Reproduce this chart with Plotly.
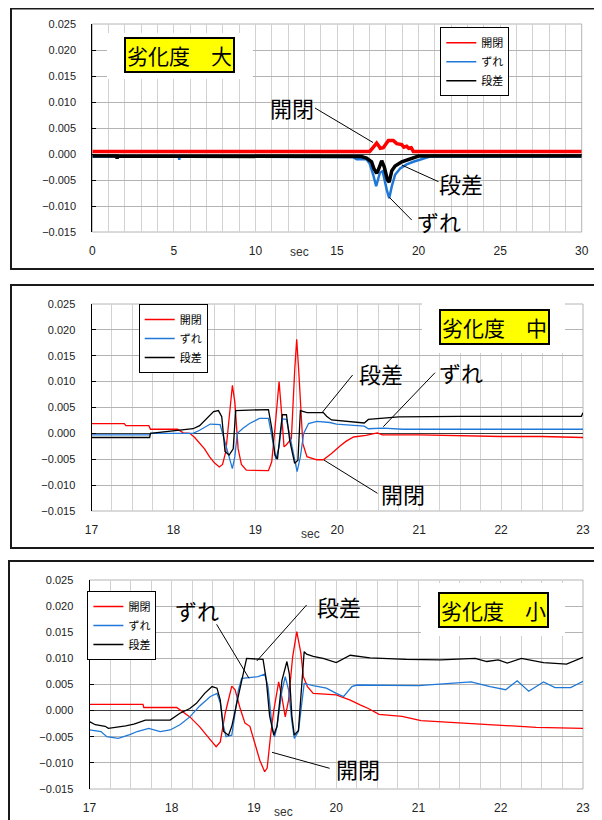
import plotly.graph_objects as go

# The page body keeps the browser's 8 px margin, so the figure starts at (8, 8)
OFF = 8
W, H = 594, 812

# ---------------- data ----------------
NAMES = ["開閉", "ずれ", "段差"]
TITLES = ["劣化度　大", "劣化度　中", "劣化度　小"]
Y_TICKS = [-0.015, -0.010, -0.005, 0.000, 0.005, 0.010, 0.015, 0.020, 0.025]

# Panel 1 (劣化度 大), 0-30 s
t1_kai = [0, 17.0, 17.12, 17.3, 17.43, 17.55, 17.65, 17.84, 18.0, 18.15, 18.45, 18.55, 18.66, 18.97,
          19.1, 19.27, 19.4, 19.55, 19.68, 30]
v1_kai = [0.0005, 0.0005, 0.0009, 0.0017, 0.0021, 0.0016, 0.0011, 0.0012, 0.0019, 0.0026, 0.0026,
          0.0022, 0.0020, 0.0018, 0.0013, 0.0015, 0.0011, 0.0012, 0.0005, 0.0005]
t1_zure = [0, 5.3, 5.33, 5.36, 16.0, 16.2, 16.8, 17.0, 17.22, 17.4, 17.63, 17.8, 18.05, 18.2, 18.36,
           18.56, 18.87, 19.27, 19.68, 20.0, 20.4, 20.7, 30]
v1_zure = [-0.0005, -0.0005, -0.0011, -0.0005, -0.0006, -0.0010, -0.0010, -0.0018, -0.0040, -0.0062,
           -0.0036, -0.0033, -0.0069, -0.0085, -0.0062, -0.0040, -0.0028, -0.0020, -0.0015, -0.0012,
           -0.0009, -0.0005, -0.0005]
t1_dan = [0, 1.5, 1.52, 1.54, 16.5, 16.81, 17.12, 17.26, 17.43, 17.53, 17.74, 17.9, 18.09, 18.2, 18.36,
          18.56, 18.97, 19.38, 19.68, 20.0, 30]
v1_dan = [-0.0004, -0.0004, -0.0009, -0.0004, -0.0005, -0.0008, -0.0015, -0.0028, -0.0037, -0.0031,
          -0.0013, -0.0025, -0.0050, -0.0054, -0.0032, -0.0023, -0.0015, -0.0011, -0.0007, -0.0004, -0.0004]

# Panel 2 (劣化度 中), 17-23 s
t2_kai = [17.0, 17.4, 17.42, 17.7, 17.72, 18.05, 18.12, 18.2, 18.26, 18.32, 18.38, 18.44, 18.5, 18.56,
          18.6, 18.64, 18.68, 18.72, 18.75, 18.79, 18.83, 18.89, 19.16, 19.2, 19.24, 19.29, 19.32,
          19.35, 19.38, 19.44, 19.48, 19.505, 19.53, 19.58, 19.63, 19.75, 19.83, 19.93, 20.03, 20.11,
          20.2, 20.35, 20.49, 20.55, 21.0, 21.5, 22.0, 22.5, 23.0]
v2_kai = [0.0019, 0.0019, 0.0015, 0.0015, 0.0008, 0.0008, 0.0001, 0.0000, -0.0008, -0.0018, -0.0030,
          -0.0045, -0.0057, -0.0065, -0.0060, -0.0035, 0.0030, 0.0093, 0.0060, -0.0030, -0.0060,
          -0.0071, -0.0072, -0.0055, 0.0010, 0.0100, 0.0040, -0.0026, -0.0022, -0.0010, 0.0120,
          0.0182, 0.0120, -0.0020, -0.0045, -0.0051, -0.0051, -0.0039, -0.0025, -0.0015, -0.0007,
          -0.0004, 0.0001, -0.0003, -0.0003, -0.0005, -0.0006, -0.0006, -0.0008]
t2_zure = [17.0, 17.71, 17.72, 18.24, 18.32, 18.45, 18.57, 18.62, 18.68, 18.72, 18.75, 18.78, 18.85,
           18.93, 19.05, 19.16, 19.2, 19.25, 19.29, 19.33, 19.38, 19.44, 19.51, 19.55, 19.59, 19.65,
           19.75, 19.91, 19.99, 20.16, 20.33, 20.38, 20.56, 20.8, 21.5, 22.2, 23.0]
v2_zure = [-0.0003, -0.0003, 0.0000, 0.0000, 0.0006, 0.0018, 0.0017, -0.0013, -0.0045, -0.0068,
           -0.0045, 0.0000, 0.0010, 0.0019, 0.0029, 0.0029, -0.0004, -0.0050, -0.0026, 0.0028, 0.0027,
           -0.0022, -0.0074, -0.0045, 0.0000, 0.0019, 0.0023, 0.0021, 0.0018, 0.0016, 0.0014, 0.0009,
           0.0010, 0.0008, 0.0008, 0.0008, 0.0008]
t2_dan = [17.0, 17.71, 17.72, 18.24, 18.32, 18.41, 18.49, 18.55, 18.59, 18.63, 18.68, 18.73, 18.76,
          19.16, 19.2, 19.24, 19.27, 19.3, 19.33, 19.38, 19.42, 19.48, 19.52, 19.55, 19.59, 19.63,
          19.83, 19.87, 19.93, 20.16, 20.33, 20.38, 20.75, 21.5, 22.5, 22.98, 23.0]
v2_dan = [-0.0008, -0.0008, 0.0000, 0.0009, 0.0015, 0.0029, 0.0042, 0.0044, 0.0032, -0.0035, -0.0042,
          -0.0030, 0.0044, 0.0046, 0.0010, -0.0042, -0.0050, -0.0005, 0.0036, 0.0036, -0.0014,
          -0.0058, -0.0052, 0.0044, 0.0042, 0.0040, 0.0040, 0.0033, 0.0026, 0.0023, 0.0020, 0.0027,
          0.0032, 0.0033, 0.0033, 0.0033, 0.0040]

# Panel 3 (劣化度 小), 17-23 s
t3_kai = [17.0, 17.65, 17.66, 18.06, 18.22, 18.34, 18.47, 18.54, 18.59, 18.65, 18.73, 18.77, 18.83,
          18.89, 18.95, 19.01, 19.07, 19.13, 19.16, 19.2, 19.24, 19.3, 19.34, 19.38, 19.42, 19.47,
          19.52, 19.57, 19.6, 19.65, 19.72, 20.0, 20.17, 20.29, 20.39, 20.52, 20.8, 21.03, 21.27,
          21.5, 21.73, 21.97, 22.2, 22.43, 23.0]
v3_kai = [0.0012, 0.0012, 0.0006, 0.0006, -0.0012, -0.0031, -0.0056, -0.0069, -0.0060, -0.0005,
          0.0047, 0.0040, 0.0005, -0.0024, -0.0030, -0.0063, -0.0095, -0.0117, -0.0110, -0.0050,
          0.0000, 0.0055, 0.0025, -0.0012, 0.0020, 0.0103, 0.0151, 0.0110, 0.0065, 0.0046, 0.0033,
          0.0030, 0.0020, 0.0011, 0.0004, -0.0007, -0.0011, -0.0019, -0.0021, -0.0024, -0.0026,
          -0.0027, -0.0030, -0.0032, -0.0034]
t3_zure = [17.0, 17.14, 17.21, 17.35, 17.49, 17.58, 17.72, 17.86, 17.98, 18.1, 18.22, 18.34, 18.47,
           18.55, 18.59, 18.63, 18.66, 18.73, 18.77, 18.81, 18.85, 18.95, 19.05, 19.13, 19.17, 19.22,
           19.25, 19.28, 19.34, 19.38, 19.42, 19.46, 19.49, 19.54, 19.58, 19.61, 19.72, 19.88, 20.0,
           20.09, 20.19, 20.25, 21.0, 21.64, 21.87, 22.06, 22.2, 22.34, 22.52, 22.66, 22.85, 23.0]
v3_zure = [-0.0037, -0.0040, -0.0050, -0.0053, -0.0046, -0.0040, -0.0034, -0.0040, -0.0037, -0.0027,
           -0.0012, 0.0009, 0.0027, 0.0033, 0.0015, -0.0030, -0.0050, -0.0047, -0.0005, 0.0039,
           0.0062, 0.0063, 0.0065, 0.0070, 0.0046, -0.0030, -0.0050, -0.0030, 0.0038, 0.0065, 0.0040,
           -0.0020, -0.0053, -0.0040, 0.0020, 0.0052, 0.0048, 0.0043, 0.0033, 0.0027, 0.0046, 0.0049,
           0.0048, 0.0055, 0.0046, 0.0040, 0.0057, 0.0037, 0.0055, 0.0044, 0.0044, 0.0056]
t3_dan = [17.0, 17.07, 17.19, 17.23, 17.44, 17.54, 17.68, 17.98, 18.1, 18.22, 18.3, 18.4, 18.49,
          18.55, 18.59, 18.63, 18.69, 18.73, 18.79, 18.85, 18.91, 19.11, 19.15, 19.19, 19.24, 19.28,
          19.34, 19.4, 19.43, 19.46, 19.49, 19.54, 19.58, 19.61, 19.64, 19.72, 19.84, 20.0, 20.17,
          20.41, 20.85, 21.27, 21.69, 21.83, 21.97, 22.08, 22.25, 22.52, 22.8, 23.0]
v3_dan = [-0.0021, -0.0027, -0.0030, -0.0034, -0.0029, -0.0026, -0.0018, -0.0018, -0.0005, 0.0004,
          0.0014, 0.0033, 0.0046, 0.0043, 0.0020, -0.0040, -0.0047, -0.0030, 0.0014, 0.0058, 0.0100,
          0.0098, 0.0058, -0.0010, -0.0047, -0.0030, 0.0058, 0.0094, 0.0070, -0.0010, -0.0047,
          -0.0038, 0.0058, 0.0113, 0.0108, 0.0104, 0.0100, 0.0092, 0.0106, 0.0101, 0.0098, 0.0097,
          0.0100, 0.0094, 0.0097, 0.0091, 0.0100, 0.0092, 0.0089, 0.0102]

# ---------------- layout helpers (window pixel -> paper) ----------------
def fx(x):
    return (x - OFF) / W


def fy(y):
    return 1 - (y - OFF) / H


RED, BLUE, BLACK = "#ff0000", "#1f78d8", "#000000"
COLORS = [RED, BLUE, BLACK]
CJK = "Noto Sans CJK JP"
NUM = "Liberation Sans, Arial, sans-serif"
GRID_X = "#d2d2d2"
GRID_Y = "#b4b4b4"

panels = [
    dict(data=[(t1_kai, v1_kai), (t1_zure, v1_zure), (t1_dan, v1_dan)],
         box=(92.3, 581.7, 24, 232), xr=[0, 30], dt=5, minor=1, widths=[3.5, 2.5, 3.5],
         legend=(440.3, 27.3), border=(11, 8.6, 599, 269), title=(179.5, 55),
         white=(107, 33, 253, 79), sec=(299, 252),
         labels=[("開閉", 292, 107, (315, 108, 373, 142.5)),
                 ("段差", 461, 183, (438.5, 181.7, 401.7, 165)),
                 ("ずれ", 439, 221, (411.7, 220, 389.3, 197.3))]),
    dict(data=[(t2_kai, v2_kai), (t2_zure, v2_zure), (t2_dan, v2_dan)],
         box=(91.5, 583, 304, 511), xr=[17, 23], dt=1, minor=0.25, widths=[1.3, 1.3, 1.3],
         legend=(138.7, 304), border=(11, 285, 600, 548), title=(494, 327.5),
         white=(422, 302, 565, 353), sec=(310.5, 533.5),
         labels=[("段差", 381, 373, (352.6, 375, 322, 412.7)),
                 ("ずれ", 461, 372, (435, 372.7, 383.3, 426.7)),
                 ("開閉", 403, 493, (377.5, 493.3, 323.9, 460))]),
    dict(data=[(t3_kai, v3_kai), (t3_zure, v3_zure), (t3_dan, v3_dan)],
         box=(89.5, 583, 580, 789), xr=[17, 23], dt=1, minor=0.25, widths=[1.3, 1.3, 1.3],
         legend=(87.4, 591), border=(9, 561, 600, 832), title=(493, 609.5),
         white=(421, 583, 565, 636), sec=(283.5, 811.5),
         labels=[("ずれ", 197, 610, (216.6, 624.3, 249, 678.3)),
                 ("段差", 339, 606, (306.6, 605, 256.8, 661)),
                 ("開閉", 358, 767.5, (329.6, 768.3, 272, 752.3))]),
]

fig = go.Figure()
shapes, annotations = [], []
layout = {}

for i, p in enumerate(panels):
    n = i + 1
    xa = "x" if n == 1 else f"x{n}"
    ya = "y" if n == 1 else f"y{n}"
    lg = "legend" if n == 1 else f"legend{n}"
    big = (n == 1)
    for k, (t, v) in enumerate(p["data"]):
        fig.add_trace(go.Scatter(
            x=t, y=v, name=NAMES[k], mode="lines",
            line=dict(color=COLORS[k], width=p["widths"][k]),
            xaxis=xa, yaxis=ya, legend=lg, showlegend=not big, hoverinfo="skip"))
    if big:
        # legend entries with thin sample lines (the plotted lines are drawn heavy)
        for k in range(3):
            fig.add_trace(go.Scatter(
                x=[None], y=[None], name=NAMES[k], mode="lines",
                line=dict(color=COLORS[k], width=1.5),
                xaxis=xa, yaxis=ya, legend=lg, showlegend=True, hoverinfo="skip"))

    l, r, t_, b = p["box"]
    layout[xa.replace("x", "xaxis")] = dict(
        domain=[fx(l), fx(r)], anchor=ya, range=p["xr"], dtick=p["dt"], tick0=p["xr"][0],
        showgrid=True, gridcolor=GRID_X, gridwidth=1, zeroline=False, showline=False,
        ticks="", minor=dict(dtick=p["minor"], showgrid=True, gridcolor=GRID_X, gridwidth=1),
        tickfont=dict(family=NUM, size=12, color="#222"), ticklabelstandoff=10,
        automargin=False, fixedrange=True)
    layout[ya.replace("y", "yaxis")] = dict(
        domain=[fy(b), fy(t_)], anchor=xa, range=[-0.0150001, 0.0250001], tickvals=Y_TICKS,
        tickformat=".3f", showgrid=True, gridcolor=GRID_Y, gridwidth=1,
        zeroline=True, zerolinecolor="#3a3a3a", zerolinewidth=1,
        showline=True, linecolor="#000", linewidth=1, ticks="inside", ticklen=4, tickcolor="#000",
        tickfont=dict(family=NUM, size=11, color="#222"), ticklabelstandoff=13,
        automargin=False, fixedrange=True)

    lx, ly = p["legend"]
    layout[lg] = dict(x=fx(lx), y=fy(ly), xanchor="left", yanchor="top", bgcolor="#ffffff",
                      bordercolor="#000", borderwidth=1, font=dict(family=CJK, size=11, color="#000"),
                      itemwidth=30, tracegroupgap=0)

    # plot frame (gray), white patch behind the title, outer border
    shapes.append(dict(type="rect", xref="paper", yref="paper", x0=fx(l), x1=fx(r),
                       y0=fy(b), y1=fy(t_), line=dict(color=GRID_Y, width=1), layer="below"))
    wx0, wy0, wx1, wy1 = p["white"]
    shapes.append(dict(type="rect", xref="paper", yref="paper", x0=fx(wx0), x1=fx(wx1),
                       y0=fy(wy1), y1=fy(wy0), line=dict(width=0), fillcolor="#ffffff", layer="above"))
    bx0, by0, bx1, by1 = p["border"]
    shapes.append(dict(type="rect", xref="paper", yref="paper", x0=fx(bx0), x1=fx(bx1),
                       y0=fy(by1), y1=fy(by0), line=dict(color="#1a1a1a", width=2), layer="above"))

    tx, ty = p["title"]
    annotations.append(dict(xref="paper", yref="paper", x=fx(tx), y=fy(ty), text=TITLES[i],
                            showarrow=False, xanchor="center", yanchor="middle",
                            font=dict(family=CJK, size=21, color="#000"), bgcolor="#ffff00",
                            bordercolor="#000", borderwidth=2, borderpad=1))
    sx, sy = p["sec"]
    annotations.append(dict(xref="paper", yref="paper", x=fx(sx), y=fy(sy), text="sec",
                            showarrow=False, xanchor="center", yanchor="middle",
                            font=dict(family=NUM, size=12, color="#333")))
    for text, cx, cy, (x0, y0, x1, y1) in p["labels"]:
        annotations.append(dict(xref="paper", yref="paper", x=fx(cx), y=fy(cy), text=text,
                                showarrow=False, xanchor="center", yanchor="middle",
                                font=dict(family=CJK, size=22, color="#000")))
        shapes.append(dict(type="line", xref="paper", yref="paper", x0=fx(x0), y0=fy(y0),
                           x1=fx(x1), y1=fy(y1), line=dict(color="#000", width=1), layer="above"))

fig.update_layout(
    width=W, height=H, margin=dict(l=0, r=0, t=0, b=0, pad=0, autoexpand=False),
    paper_bgcolor="#ffffff", plot_bgcolor="#ffffff",
    shapes=shapes, annotations=annotations, **layout)

fig.write_html("out.html", config={"displayModeBar": False, "responsive": False})
